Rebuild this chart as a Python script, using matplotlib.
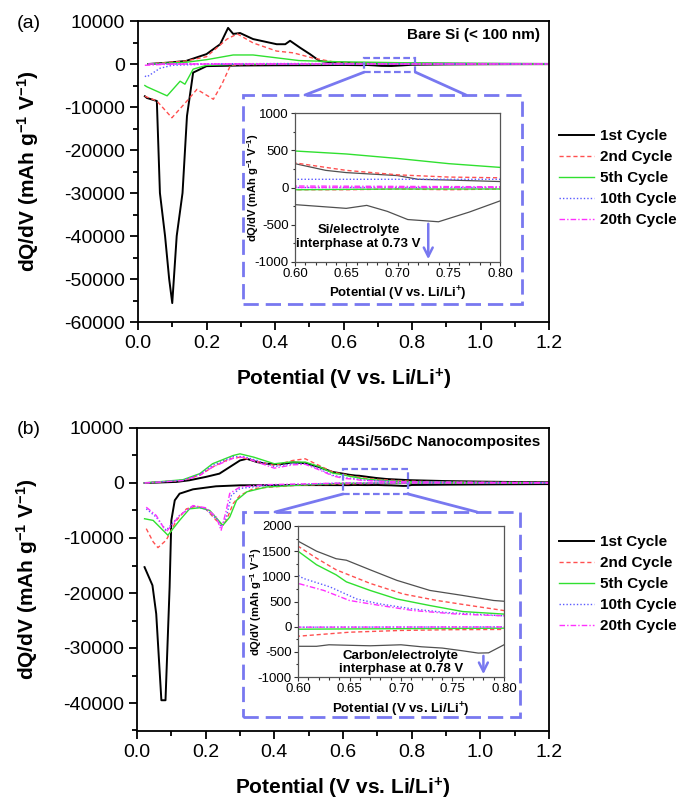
import matplotlib

matplotlib.use("Agg")
import matplotlib.pyplot as plt
from matplotlib.patches import Rectangle, ConnectionPatch
from matplotlib.ticker import MultipleLocator, FormatStrFormatter

plt.rcParams["font.family"] = ["Liberation Sans", "DejaVu Sans"]
plt.rcParams["axes.unicode_minus"] = False
plt.rcParams["mathtext.default"] = "regular"

# %% Data — panel (a), bare Si
a1_dis_x = [0.02, 0.026, 0.055, 0.064, 0.079, 0.091, 0.10, 0.113, 0.13, 0.143, 0.161, 0.20, 0.30, 0.40,
            0.50, 0.60, 0.62, 0.65, 0.67, 0.69, 0.71, 0.73, 0.74, 0.77, 0.80, 0.90, 1.00, 1.10, 1.20]
a1_dis_y = [-7500, -7900, -8600, -30000, -40000, -50000, -55600, -40000, -30000, -12100, -2000, -500, -350,
            -300, -280, -230, -250, -280, -240, -320, -430, -450, -460, -330, -180, -100, -60, -40, -30]
a1_chg_x = [0.03, 0.085, 0.14, 0.20, 0.24, 0.263, 0.278, 0.298, 0.336, 0.405, 0.43, 0.444, 0.473, 0.502,
            0.53, 0.57, 0.60, 0.63, 0.65, 0.70, 0.72, 0.75, 0.80, 0.90, 1.00, 1.10, 1.20]
a1_chg_y = [0, 300, 700, 2300, 4600, 8400, 7000, 7200, 5800, 4600, 4600, 5400, 3800, 2300, 700, 350, 320,
            230, 200, 160, 110, 100, 80, 60, 40, 30, 20]
a2_dis_x = [0.02, 0.026, 0.055, 0.099, 0.143, 0.172, 0.22, 0.245, 0.27, 0.30, 0.40, 0.50, 0.60, 0.65,
            0.70, 0.75, 0.80, 0.90, 1.00, 1.20]
a2_dis_y = [-7500, -7700, -8600, -12500, -8600, -5900, -8200, -4700, -300, -150, -80, -50, -30, -30, -20,
            -30, -20, -15, -10, -10]
a2_chg_x = [0.03, 0.14, 0.20, 0.26, 0.29, 0.336, 0.405, 0.453, 0.51, 0.57, 0.60, 0.65, 0.70, 0.75, 0.80,
            0.90, 1.00, 1.20]
a2_chg_y = [0, 700, 1700, 5800, 7000, 4900, 3000, 2600, 1400, 500, 330, 230, 170, 140, 130, 90, 60, 30]
a5_dis_x = [0.02, 0.026, 0.085, 0.123, 0.137, 0.161, 0.20, 0.30, 0.60, 0.70, 0.80, 1.00, 1.20]
a5_dis_y = [-5000, -5300, -7400, -4000, -4700, -1200, -300, -80, -30, -20, -20, -10, -10]
a5_chg_x = [0.03, 0.14, 0.20, 0.278, 0.336, 0.47, 0.60, 0.65, 0.70, 0.75, 0.80, 0.90, 1.00, 1.20]
a5_chg_y = [0, 400, 1000, 2100, 2100, 800, 490, 450, 390, 320, 270, 200, 130, 60]
a10_dis_x = [0.02, 0.026, 0.064, 0.10, 0.20, 0.60, 0.80, 1.20]
a10_dis_y = [-2800, -3000, -1000, -300, -50, 0, 0, 0]
a10_chg_x = [0.03, 0.20, 0.40, 0.60, 0.70, 0.80, 1.00, 1.20]
a10_chg_y = [0, 50, 100, 110, 110, 110, 80, 50]
a20_dis_x = [0.02, 0.06, 0.10, 0.20, 0.60, 0.80, 1.20]
a20_dis_y = [-300, -150, -50, -20, 0, 0, 0]
a20_chg_x = [0.03, 0.20, 0.40, 0.60, 0.80, 1.20]
a20_chg_y = [0, 20, 30, 20, 10, 10]

# %% Data — panel (b), 44Si/56DC nanocomposite
b1_dis_x = [0.022, 0.045, 0.056, 0.071, 0.083, 0.095, 0.10, 0.11, 0.124, 0.163, 0.23, 0.30, 0.40, 0.50,
            0.60, 0.618, 0.63, 0.67, 0.70, 0.72, 0.74, 0.76, 0.775, 0.785, 0.80, 0.90, 1.00, 1.10, 1.20]
b1_dis_y = [-15300, -18600, -23800, -39500, -39500, -18900, -6800, -3150, -1940, -1150, -600, -420, -390,
            -380, -390, -390, -360, -380, -360, -400, -425, -480, -525, -520, -360, -300, -260, -230, -200]
b1_chg_x = [0.022, 0.115, 0.153, 0.20, 0.24, 0.27, 0.30, 0.32, 0.35, 0.377, 0.415, 0.454, 0.49, 0.53,
            0.57, 0.60, 0.618, 0.637, 0.647, 0.67, 0.696, 0.728, 0.76, 0.79, 0.80, 0.90, 1.00, 1.10, 1.20]
b1_chg_y = [0, 200, 500, 1100, 1700, 2900, 4100, 4400, 3800, 3500, 3400, 3750, 3600, 2900, 2000, 1700,
            1500, 1350, 1320, 1130, 920, 720, 620, 520, 505, 350, 250, 180, 130]
b2_dis_x = [0.027, 0.047, 0.061, 0.085, 0.115, 0.144, 0.173, 0.20, 0.231, 0.25, 0.26, 0.28, 0.30, 0.34,
            0.40, 0.47, 0.60, 0.65, 0.70, 0.75, 0.80, 0.90, 1.00, 1.20]
b2_dis_y = [-8300, -10700, -11750, -10400, -6800, -4700, -4200, -4700, -6800, -7700, -6800, -3750, -2250,
            -1000, -700, -400, -190, -110, -75, -60, -55, -40, -30, -20]
b2_chg_x = [0.022, 0.134, 0.183, 0.22, 0.27, 0.30, 0.34, 0.40, 0.454, 0.49, 0.53, 0.57, 0.60, 0.618,
            0.637, 0.67, 0.702, 0.735, 0.767, 0.80, 0.90, 1.00, 1.20]
b2_chg_y = [0, 500, 1400, 2900, 4400, 4700, 4100, 3200, 4100, 4400, 3200, 2000, 1600, 1360, 1130, 860,
            650, 520, 420, 320, 200, 130, 80]
b5_dis_x = [0.022, 0.047, 0.09, 0.124, 0.153, 0.183, 0.212, 0.25, 0.27, 0.29, 0.32, 0.377, 0.47, 0.60,
            0.70, 0.80, 1.00, 1.20]
b5_dis_y = [-6500, -6800, -9500, -6800, -4700, -4500, -5000, -7700, -6200, -3150, -1600, -730, -400, -50,
            -40, -30, -20, -10]
b5_chg_x = [0.022, 0.134, 0.183, 0.22, 0.28, 0.30, 0.34, 0.40, 0.445, 0.49, 0.53, 0.57, 0.60, 0.618,
            0.637, 0.647, 0.67, 0.696, 0.728, 0.76, 0.80, 0.90, 1.00, 1.20]
b5_chg_y = [0, 600, 1700, 3500, 5000, 5300, 4700, 3500, 3800, 3800, 3000, 1800, 1500, 1230, 1030, 890,
            720, 550, 420, 300, 250, 160, 100, 60]
b10_dis_x = [0.027, 0.056, 0.085, 0.124, 0.163, 0.20, 0.236, 0.245, 0.26, 0.275, 0.30, 0.377, 0.60,
             0.80, 1.00, 1.20]
b10_dis_y = [-4700, -6200, -8600, -5900, -4200, -4700, -6800, -8000, -6200, -2250, -1000, -420, -10, -5,
             0, 0]
b10_chg_x = [0.022, 0.134, 0.183, 0.22, 0.28, 0.31, 0.35, 0.40, 0.454, 0.49, 0.53, 0.57, 0.605, 0.631,
             0.657, 0.68, 0.712, 0.744, 0.80, 0.90, 1.00, 1.20]
b10_chg_y = [0, 500, 1600, 3200, 4800, 4800, 4100, 3000, 3500, 3500, 2600, 1400, 960, 790, 550, 450,
             350, 280, 215, 150, 100, 60]
b20_dis_x = [0.027, 0.056, 0.085, 0.124, 0.163, 0.20, 0.231, 0.245, 0.26, 0.27, 0.30, 0.377, 0.60,
             0.80, 1.00, 1.20]
b20_dis_y = [-4400, -5900, -8900, -5900, -4100, -4500, -6200, -8600, -5000, -1900, -730, -300, -10, -5,
             0, 0]
b20_chg_x = [0.022, 0.134, 0.183, 0.22, 0.28, 0.31, 0.35, 0.40, 0.454, 0.49, 0.53, 0.57, 0.60, 0.625,
             0.65, 0.68, 0.712, 0.754, 0.80, 0.90, 1.00, 1.20]
b20_chg_y = [0, 450, 1400, 2900, 4500, 4700, 3800, 2700, 3300, 3400, 2400, 1300, 860, 720, 520, 420,
             320, 250, 215, 150, 100, 60]

cycle_labels = ["1st Cycle", "2nd Cycle", "5th Cycle", "10th Cycle", "20th Cycle"]

# %% Styles
BOX = "#7878f0"
styles = [
    dict(color="black", ls="-", lw=1.4),
    dict(color="#ff5050", ls=(0, (3, 2)), lw=1.0),
    dict(color="#30e030", ls="-", lw=1.0),
    dict(color="#5a5aff", ls=(0, (1, 1.5)), lw=1.0),
    dict(color="#ff30ff", ls=(0, (4, 1.5, 1, 1.5)), lw=1.0),
]

panel_a = [
    (a1_chg_x, a1_chg_y, a1_dis_x, a1_dis_y),
    (a2_chg_x, a2_chg_y, a2_dis_x, a2_dis_y),
    (a5_chg_x, a5_chg_y, a5_dis_x, a5_dis_y),
    (a10_chg_x, a10_chg_y, a10_dis_x, a10_dis_y),
    (a20_chg_x, a20_chg_y, a20_dis_x, a20_dis_y),
]
panel_b = [
    (b1_chg_x, b1_chg_y, b1_dis_x, b1_dis_y),
    (b2_chg_x, b2_chg_y, b2_dis_x, b2_dis_y),
    (b5_chg_x, b5_chg_y, b5_dis_x, b5_dis_y),
    (b10_chg_x, b10_chg_y, b10_dis_x, b10_dis_y),
    (b20_chg_x, b20_chg_y, b20_dis_x, b20_dis_y),
]

YLAB = "dQ/dV (mAh g$^{-1}$ V$^{-1}$)"
XLAB = "Potential (V vs. Li/Li$^{+}$)"

fig = plt.figure(figsize=(6.8, 8.0), dpi=100)


def style_main(ax, ylim):
    ax.set_xlim(0, 1.2)
    ax.set_ylim(*ylim)
    ax.xaxis.set_major_locator(MultipleLocator(0.2))
    ax.xaxis.set_minor_locator(MultipleLocator(0.1))
    ax.xaxis.set_major_formatter(FormatStrFormatter("%.1f"))
    ax.yaxis.set_major_locator(MultipleLocator(10000))
    ax.yaxis.set_minor_locator(MultipleLocator(5000))
    ax.tick_params(which="both", direction="out", top=False, right=False, labelsize=14, width=1.3)
    ax.tick_params(which="major", length=6)
    ax.tick_params(which="minor", length=3.5)
    for s in ax.spines.values():
        s.set_linewidth(1.3)
    ax.set_xlabel(XLAB, fontsize=15, fontweight="bold")
    ax.set_ylabel(YLAB, fontsize=15, fontweight="bold")


def style_inset(ax, ylim, ystep):
    ax.set_xlim(0.6, 0.8)
    ax.set_ylim(*ylim)
    ax.xaxis.set_major_locator(MultipleLocator(0.05))
    ax.xaxis.set_minor_locator(MultipleLocator(0.01))
    ax.xaxis.set_major_formatter(FormatStrFormatter("%.2f"))
    ax.yaxis.set_major_locator(MultipleLocator(ystep))
    ax.yaxis.set_minor_locator(MultipleLocator(ystep / 2))
    ax.tick_params(which="both", direction="out", labelsize=9.5, width=0.8, colors="#333333", labelcolor="black",
                   pad=1.5)
    ax.tick_params(which="major", length=3)
    ax.tick_params(which="minor", length=1.8)
    for s in ax.spines.values():
        s.set_linewidth(0.9)
        s.set_color("#555555")
    ax.set_xlabel(XLAB, fontsize=9.5, fontweight="bold")
    ax.set_ylabel(YLAB, fontsize=8, fontweight="bold")


def draw_panel(main_rect, inset_rect, box_rect, data, ylim, inset_ylim, inset_ystep,
               zoom_box, link_pts, title, tag, tag_y, legend_top, note, note_xy, arrow_x, arrow_y0):
    ax = fig.add_axes(main_rect)
    for (cx, cy, dx, dy), st, lab in zip(data, styles, cycle_labels):
        ax.plot(dx, dy, **st, label=lab)
        ax.plot(cx, cy, **st)
    style_main(ax, ylim)
    ax.text(0.978, 0.955, title, transform=ax.transAxes, ha="right", va="center",
            fontsize=11, fontweight="bold")
    fig.text(17 / 680, tag_y, tag, fontsize=14, va="center", ha="left")

    # small dashed zoom box on the main curve
    x0, x1, y0, y1 = zoom_box
    ax.add_patch(Rectangle((x0, y0), x1 - x0, y1 - y0, fill=False, edgecolor=BOX, lw=1.6,
                           ls=(0, (3, 1.5)), zorder=6))
    # big dashed frame around the inset
    fig.patches.append(Rectangle(box_rect[:2], box_rect[2], box_rect[3], fill=False, edgecolor=BOX,
                                 lw=2.0, ls=(0, (5.5, 2.5)), transform=fig.transFigure, figure=fig))
    for (px, py), (fx, fy) in zip([(x0, y0), (x1, y0)], link_pts):
        con = ConnectionPatch(xyA=(px, py), coordsA=ax.transData, xyB=(fx, fy),
                              coordsB=fig.transFigure, color=BOX, lw=2.0)
        fig.add_artist(con)

    ins = fig.add_axes(inset_rect)
    for (cx, cy, dx, dy), st in zip(data, styles):
        lw = 0.9 if st["color"] == "black" else 1.0
        col = "#505050" if st["color"] == "black" else st["color"]
        ins.plot(dx, dy, color=col, ls=st["ls"], lw=lw)
        ins.plot(cx, cy, color=col, ls=st["ls"], lw=lw)
    style_inset(ins, inset_ylim, inset_ystep)
    ins.text(note_xy[0], note_xy[1], note, ha="center", va="center", fontsize=9.5, fontweight="bold",
             linespacing=1.2)
    ins.annotate("", xy=(arrow_x, inset_ylim[0]), xytext=(arrow_x, arrow_y0),
                 arrowprops=dict(arrowstyle="->", color=BOX, lw=1.8, mutation_scale=16), annotation_clip=False)

    fig.legend(*ax.get_legend_handles_labels(), loc="upper left",
               bbox_to_anchor=(559 / 680, legend_top), frameon=False,
               prop=dict(weight="bold", size=11), handlelength=2.3, handletextpad=0.4,
               labelspacing=0.46, borderpad=0, borderaxespad=0)
    return ax, ins


ax_a, in_a = draw_panel(
    main_rect=[138 / 680, 1 - 322 / 800, 411 / 680, 301 / 800],
    inset_rect=[295 / 680, 1 - 262 / 800, 205 / 680, 149 / 800],
    box_rect=[243 / 680, 1 - 304 / 800, 279 / 680, 209 / 800],
    data=panel_a, ylim=(-60000, 10000), inset_ylim=(-1000, 1000), inset_ystep=500,
    zoom_box=(0.66, 0.81, -1900, 1400),
    link_pts=[(305 / 680, 1 - 95 / 800), (466 / 680, 1 - 95 / 800)],
    title="Bare Si (< 100 nm)", tag="(a)", tag_y=1 - 23 / 800, legend_top=1 - 129 / 800,
    note="Si/electrolyte\ninterphase at 0.73 V", note_xy=(0.662, -660), arrow_x=0.73, arrow_y0=-450,
)
ax_b, in_b = draw_panel(
    main_rect=[137 / 680, 1 - 730.5 / 800, 412 / 680, 302.5 / 800],
    inset_rect=[298 / 680, 1 - 677 / 800, 206 / 680, 151 / 800],
    box_rect=[243 / 680, 1 - 717 / 800, 277 / 680, 205 / 800],
    data=panel_b, ylim=(-45000, 10000), inset_ylim=(-1000, 2000), inset_ystep=500,
    zoom_box=(0.60, 0.79, -2000, 2545),
    link_pts=[(275 / 680, 1 - 512 / 800), (477 / 680, 1 - 512 / 800)],
    title="44Si/56DC Nanocomposites", tag="(b)", tag_y=1 - 429 / 800, legend_top=1 - 535 / 800,
    note="Carbon/electrolyte\ninterphase at 0.78 V", note_xy=(0.70, -710), arrow_x=0.78, arrow_y0=-525,
)

for ax in (ax_a, ax_b):
    ax.xaxis.set_label_coords(0.5, -0.15)
    ax.yaxis.set_label_coords(-0.235, 0.5)
for ins in (in_a, in_b):
    ins.xaxis.set_label_coords(0.5, -0.155)
    ins.yaxis.set_label_coords(-0.165, 0.5)

fig.savefig("out.png", dpi=100)
